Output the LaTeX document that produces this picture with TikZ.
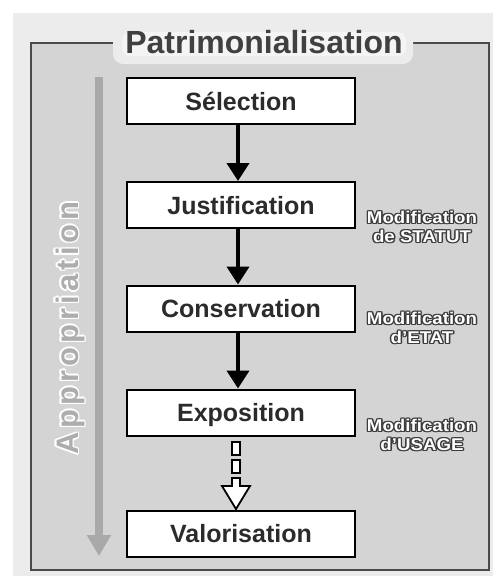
\documentclass[tikz,border=0pt]{standalone}
\usepackage{fontspec}
\usepackage{graphicx}
\setmainfont{Liberation Sans}
\usetikzlibrary{arrows.meta}
\definecolor{outerbg}{HTML}{ECECEC}
\definecolor{framebg}{HTML}{D4D4D4}
\definecolor{framedraw}{HTML}{4A4A4A}
\definecolor{txt}{HTML}{2B2B2B}
\definecolor{apparrow}{HTML}{A9A9A9}
\definecolor{apptext}{HTML}{ADADAD}
\definecolor{olc}{HTML}{3C3C3C}
\definecolor{glow}{HTML}{F4F4F4}
% outlined text: coloured copies round a top copy
\newcommand{\oltcol}[3]{\leavevmode
 \rlap{\color{#1}\kern-#2pt#3}\rlap{\color{#1}\kern#2pt#3}%
 \rlap{\color{#1}\raisebox{#2pt}{#3}}\rlap{\color{#1}\raisebox{-#2pt}{#3}}%
 \rlap{\color{#1}\kern-0.75\dimexpr#2pt\relax\raisebox{0.75\dimexpr#2pt\relax}{#3}}%
 \rlap{\color{#1}\kern0.75\dimexpr#2pt\relax\raisebox{0.75\dimexpr#2pt\relax}{#3}}%
 \rlap{\color{#1}\kern-0.75\dimexpr#2pt\relax\raisebox{-0.75\dimexpr#2pt\relax}{#3}}%
 \rlap{\color{#1}\kern0.75\dimexpr#2pt\relax\raisebox{-0.75\dimexpr#2pt\relax}{#3}}}
\newcommand{\olt}[1]{\scalebox{1.1}[1]{\oltcol{olc}{1.3}{#1}{\color{white}#1}}}
\newcommand{\glowtxt}[1]{\oltcol{white}{1.5}{#1}{\color{apptext}#1}}
\tikzset{
 stepbox/.style={draw=black, line width=2pt, fill=white, minimum width=228pt,
   minimum height=46pt, text height=18pt, text depth=0pt, inner sep=0pt,
   font=\bfseries\fontsize{25}{30}\selectfont, text=txt},
 flowarrow/.style={line width=4pt, -{Triangle[width=22pt,length=18pt]}, black},
 sidelbl/.style={align=center, font=\bfseries\fontsize{17}{19}\selectfont, inner sep=0pt},
}
\begin{document}
\begin{tikzpicture}[x=1pt,y=-1pt]
\useasboundingbox (0,0) rectangle (493,576);
\fill[white] (0,0) rectangle (493,576);
\fill[outerbg] (13,13) rectangle (493,576);
% frame
\draw[framedraw, line width=2.5pt, fill=framebg] (31,43) rectangle (489,570);
% title glow
\fill[outerbg, rounded corners=10pt] (113,28) rectangle (413,64);
\fill[glow, rounded corners=8pt] (122,32) rectangle (406,56);
\node[anchor=base, text=txt!90!white, font=\bfseries\fontsize{32}{36}\selectfont, inner sep=0pt] (title) at (264,53) {Patrimonialisation};
% appropriation arrow and text
\coordinate (ga) at (99,77);
\coordinate (gb) at (99,556);
\draw[apparrow, line width=8pt, -{Triangle[width=23pt,length=21pt]}] (ga) -- (gb);
\node[rotate=90, anchor=base, inner sep=0pt, font=\bfseries\fontsize{31}{36}\selectfont\addfontfeature{LetterSpace=13}] (appr) at (78,328) {\glowtxt{Appropriation}};
% steps
\node[stepbox] (sel) at (241,101) {Sélection};
\node[stepbox] (jus) at (241,205) {Justification};
\node[stepbox] (con) at (241,308.5) {Conservation};
\node[stepbox] (exp) at (241,412.5) {Exposition};
\node[stepbox] (val) at (241,533.5) {Valorisation};
\draw[flowarrow] ([xshift=-3pt]sel.south) -- ([xshift=-3pt]jus.north);
\draw[flowarrow] ([xshift=-3pt]jus.south) -- ([xshift=-3pt]con.north);
\draw[flowarrow] ([xshift=-3pt]con.south) -- ([xshift=-3pt]exp.north);
% dashed hollow arrow
\draw[black, line width=1.8pt, fill=white] (232,442) rectangle (240,455);
\draw[black, line width=1.8pt, fill=white] (232,460) rectangle (240,473);
\draw[black, line width=1.8pt, fill=white, line join=miter]
  (232,478) -- (240,478) -- (240,486) -- (250,486) -- (236,509) -- (222,486) -- (232,486) -- cycle;
% side labels
\node[sidelbl] (m1) at (422,227) {\olt{Modification}\\\olt{de STATUT}};
\node[sidelbl] (m2) at (422,328) {\olt{Modification}\\\olt{d'ETAT}};
\node[sidelbl] (m3) at (422,435) {\olt{Modification}\\\olt{d'USAGE}};
\end{tikzpicture}
\end{document}
